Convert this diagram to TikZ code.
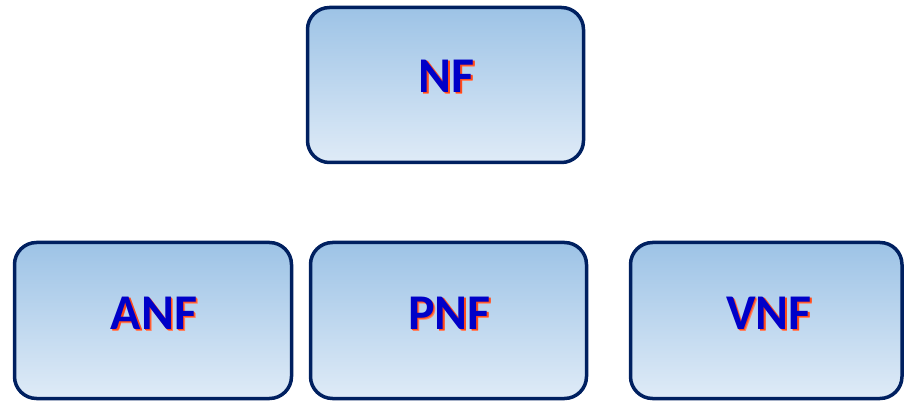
\documentclass[tikz,border=0pt]{standalone}
\usepackage{fontspec}
\setmainfont{Carlito}
\definecolor{navy}{HTML}{002060}
\definecolor{topblue}{HTML}{9DC3E6}
\definecolor{botblue}{HTML}{DFEBF7}
\definecolor{textblue}{HTML}{0000C8}
\definecolor{shadowred}{HTML}{FF4A1A}
\newcommand\shadowtxt[1]{\makebox[0pt][l]{\hspace{2pt}\raisebox{-2pt}{\textcolor{shadowred!70!white}{#1}}}\makebox[0pt][l]{\hspace{1.5pt}\raisebox{-1.5pt}{\textcolor{shadowred}{#1}}}\textcolor{textblue}{#1}}
\begin{document}
\begin{tikzpicture}[x=1pt,y=-1pt,
  boxst/.style={draw=navy,line width=3.5pt,rounded corners=22pt,top color=topblue,bottom color=botblue},
  lbl/.style={font=\fontsize{50}{50}\selectfont\bfseries}]
\useasboundingbox (0,0) rectangle (904,403);
\path[boxst] (307.5,7.5) rectangle (583.5,162.5);
\path[boxst] (14.5,242.5) rectangle (291.5,398.5);
\path[boxst] (310.5,242.5) rectangle (586.5,398.5);
\path[boxst] (630.5,242.5) rectangle (902,398.5);
\node[lbl] (nf) at (446.5,77) {\shadowtxt{NF}};
\node[lbl] (anf) at (154,314) {\shadowtxt{ANF}};
\node[lbl] (pnf) at (449.5,314) {\shadowtxt{PNF}};
\node[lbl] (vnf) at (769,314) {\shadowtxt{VNF}};
\end{tikzpicture}
\end{document}
